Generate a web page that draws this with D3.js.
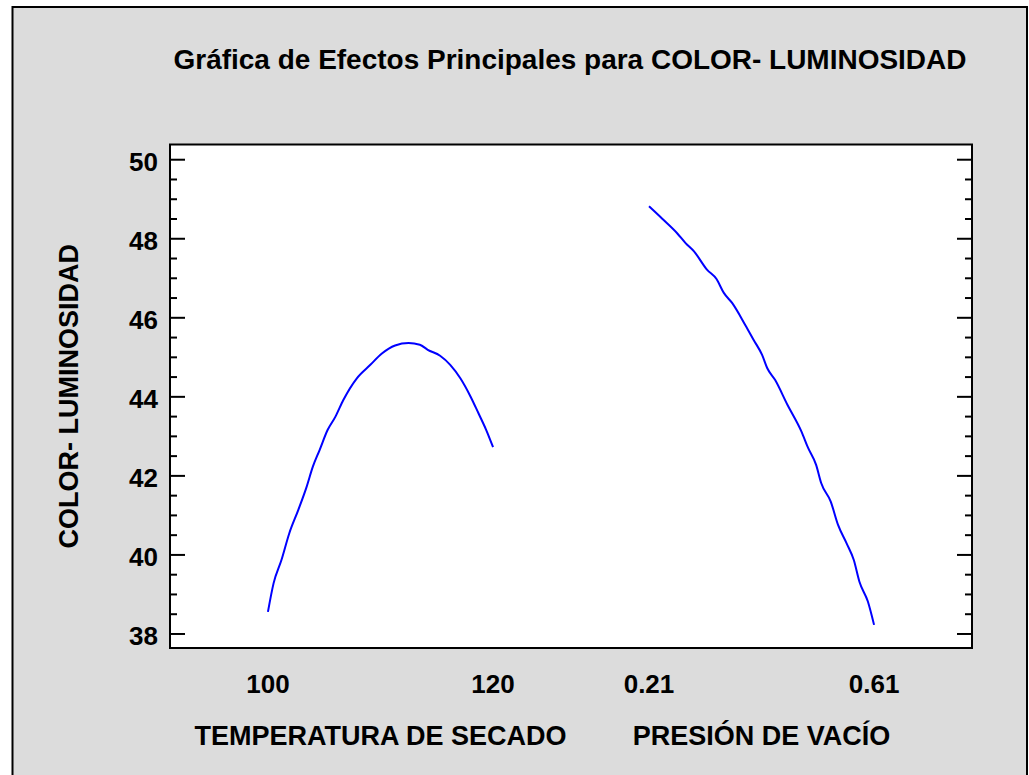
<!DOCTYPE html>
<html lang="es">
<head>
<meta charset="UTF-8">
<title>Gráfica de Efectos Principales para COLOR- LUMINOSIDAD</title>
<script src="https://d3js.org/d3.v7.min.js"></script>
<style>
  html, body { margin: 0; padding: 0; background: #fff; }
  svg text { font-family: Arial, "Liberation Sans", sans-serif; font-weight: bold; fill: #000; }
</style>
</head>
<body>
<div id="chart"></div>
<script>
// Factors and their low/high levels
const factors = ["TEMPERATURA DE SECADO", "PRESIÓN DE VACÍO"];
const factorLevels = [[100, 120], [0.21, 0.61]];
const levelLabels = [["100", "120"], ["0.21", "0.61"]];

// Curve: temperature vs predicted luminosity
const tempX = [100, 100.5, 101.2, 101.9, 102.7, 103.4, 104.0, 104.6, 105.3, 106.0, 106.7, 107.9,
  109.1, 110.1, 111.3, 112.5, 113.5, 114.2, 115.3, 116.2, 117.1, 118.0, 118.7, 119.4, 120];
const tempY = [38.56, 39.28, 39.87, 40.55, 41.14, 41.69, 42.24, 42.66, 43.16, 43.50, 43.92, 44.47,
  44.81, 45.09, 45.30, 45.36, 45.32, 45.19, 45.04, 44.81, 44.47, 44.01, 43.59, 43.16, 42.73];

// Pressure vs predicted luminosity
const presX = [0.21, 0.234, 0.260, 0.275, 0.290, 0.313, 0.330, 0.343, 0.358, 0.381, 0.396, 0.411,
  0.420, 0.434, 0.456, 0.481, 0.493, 0.507, 0.516, 0.533, 0.546, 0.561, 0.574, 0.584, 0.599, 0.61];
const presY = [48.82, 48.50, 48.14, 47.89, 47.68, 47.22, 46.98, 46.63, 46.37, 45.82, 45.44, 45.06,
  44.73, 44.43, 43.80, 43.12, 42.70, 42.28, 41.82, 41.35, 40.76, 40.30, 39.87, 39.32, 38.82, 38.23];

const yMajor = [38, 40, 42, 44, 46, 48, 50];
const yMinor = d3.range(38, 50.01, 0.5);

const W = 1029, H = 775;
const plot = { left: 170, right: 972, top: 144.5, bottom: 648 };

const svg = d3.select("#chart").append("svg")
  .attr("width", W).attr("height", H);

// gray panel with border
svg.append("rect")
  .attr("x", 12.5).attr("y", 7)
  .attr("width", 1014.5).attr("height", 780)
  .attr("fill", "#dcdcdc")
  .attr("stroke", "#000").attr("stroke-width", 2);

svg.append("text")
  .attr("x", 570).attr("y", 69)
  .attr("text-anchor", "middle")
  .attr("font-size", 27)
  .attr("textLength", 793).attr("lengthAdjust", "spacingAndGlyphs")
  .text("Gráfica de Efectos Principales para COLOR- LUMINOSIDAD");

// scales
const y = d3.scaleLinear().domain([37.645, 50.385]).range([plot.bottom, plot.top]);
const band = d3.scaleBand().domain(factors)
  .range([plot.left, plot.right]).paddingInner(0.4094).paddingOuter(0.257);
const xScales = factors.map((f, i) =>
  d3.scaleLinear().domain(factorLevels[i]).range([band(f), band(f) + band.bandwidth()]));

// plot area
svg.append("rect")
  .attr("x", plot.left).attr("y", plot.top)
  .attr("width", plot.right - plot.left).attr("height", plot.bottom - plot.top)
  .attr("fill", "#fff").attr("stroke", "#000").attr("stroke-width", 2);

// ticks on left and right edges
const ticks = svg.append("g").attr("stroke", "#000").attr("stroke-width", 2);
yMinor.forEach(v => {
  const len = yMajor.includes(v) ? 15 : 7;
  ticks.append("line").attr("x1", plot.left).attr("x2", plot.left + len)
    .attr("y1", y(v)).attr("y2", y(v));
  ticks.append("line").attr("x1", plot.right).attr("x2", plot.right - len)
    .attr("y1", y(v)).attr("y2", y(v));
});

svg.append("g").selectAll("text")
  .data(yMajor).join("text")
  .attr("x", 158).attr("y", d => y(d) + 11)
  .attr("text-anchor", "end")
  .attr("font-size", 26)
  .text(d => d);

svg.append("text")
  .attr("transform", `translate(78,${(plot.top + plot.bottom) / 2}) rotate(-90)`)
  .attr("text-anchor", "middle")
  .attr("font-size", 27)
  .text("COLOR- LUMINOSIDAD");

// factor level labels and names
factors.forEach((f, i) => {
  factorLevels[i].forEach((lv, j) => {
    svg.append("text")
      .attr("x", xScales[i](lv)).attr("y", 693)
      .attr("text-anchor", "middle")
      .attr("font-size", 26)
      .text(levelLabels[i][j]);
  });
  svg.append("text")
    .attr("x", band(f) + band.bandwidth() / 2).attr("y", 745)
    .attr("text-anchor", "middle")
    .attr("font-size", 27)
    .text(f);
});

// effect curves
const series = [
  { xs: tempX, ys: tempY, sx: xScales[0] },
  { xs: presX, ys: presY, sx: xScales[1] }
];
const line = d3.line().curve(d3.curveMonotoneX);
series.forEach(s => {
  svg.append("path")
    .attr("d", line(s.xs.map((v, k) => [s.sx(v), y(s.ys[k])])))
    .attr("fill", "none")
    .attr("stroke", "#0000ff")
    .attr("stroke-width", 2);
});
</script>
</body>
</html>
